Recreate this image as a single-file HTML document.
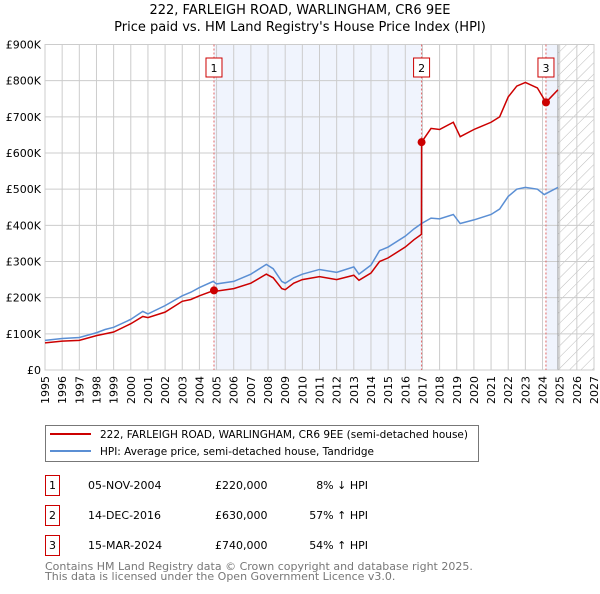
<!DOCTYPE html>
<html><head><meta charset="utf-8"><style>
body{margin:0;background:#fff;font-family:"DejaVu Sans","Liberation Sans",sans-serif;}
svg text{font-family:"DejaVu Sans","Liberation Sans",sans-serif;}
</style></head><body>
<svg id="chart" width="600" height="590" viewBox="0 0 600 590" xmlns="http://www.w3.org/2000/svg">
<defs><pattern id="hatch" patternUnits="userSpaceOnUse" width="8" height="8" patternTransform="rotate(45)"><line x1="0" y1="0" x2="0" y2="8" stroke="#bbb" stroke-width="1"/></pattern></defs>
<text x="300" y="14" text-anchor="middle" font-size="13">222, FARLEIGH ROAD, WARLINGHAM, CR6 9EE</text>
<text x="300" y="31" text-anchor="middle" font-size="13">Price paid vs. HM Land Registry's House Price Index (HPI)</text>
<g id="plot"></g>
<rect x="45.5" y="425.5" width="433" height="36" fill="#fff" stroke="#777"/>
<line x1="50" y1="434" x2="91" y2="434" stroke="#cc0000" stroke-width="2"/>
<text x="100" y="438" font-size="10.5" textLength="368" lengthAdjust="spacingAndGlyphs">222, FARLEIGH ROAD, WARLINGHAM, CR6 9EE (semi-detached house)</text>
<line x1="50" y1="451" x2="91" y2="451" stroke="#5b8fd4" stroke-width="2"/>
<text x="100" y="455" font-size="10.5" textLength="274" lengthAdjust="spacingAndGlyphs">HPI: Average price, semi-detached house, Tandridge</text>
<g id="table" font-size="11"></g>
<text x="45" y="570" font-size="11" fill="#777">Contains HM Land Registry data © Crown copyright and database right 2025.</text>
<text x="45" y="580" font-size="11" fill="#777">This data is licensed under the Open Government Licence v3.0.</text>
</svg>
<script>
const hpiYears=[1995,1996,1997,1998,1998.5,1999,2000,2000.7,2001,2002,2003,2003.5,2004,2004.8,2005,2006,2007,2007.9,2008.3,2008.8,2009,2009.5,2010,2011,2012,2013,2013.3,2014,2014.5,2015,2016,2016.5,2016.95,2017.5,2018,2018.8,2019.2,2020,2021,2021.5,2022,2022.5,2023,2023.7,2024.1,2024.5,2024.9];
const hpiValues=[82,87,90,103,112,118,140,162,155,178,205,215,228,245,238,245,265,292,280,245,240,255,265,278,270,285,265,290,330,340,370,390,405,420,418,430,405,415,430,445,480,500,505,500,485,495,505];
const redYears=[1995,1996,1997,1998,1999,2000,2000.7,2001,2002,2003,2003.5,2004,2004.85,2005,2006,2007,2007.9,2008.3,2008.8,2009,2009.5,2010,2011,2012,2013,2013.3,2014,2014.5,2015,2016,2016.5,2016.94,2016.95,2017.5,2018,2018.8,2019.2,2020,2021,2021.5,2022,2022.5,2023,2023.7,2024.2,2024.5,2024.9];
const redValues=[75,80,82,95,105,128,148,145,160,190,195,205,220,218,225,240,265,255,225,222,240,250,258,250,262,248,268,300,310,340,360,375,630,668,665,685,645,665,685,700,755,785,795,780,740,755,775];
const saleYears=[2004.85,2016.95,2024.2];
const saleValues=[220,630,740];
const saleLabels=["1","2","3"];
const yTicks=[0,100,200,300,400,500,600,700,800,900];
const yTickLabels=["£0","£100K","£200K","£300K","£400K","£500K","£600K","£700K","£800K","£900K"];
const tableDates=["05-NOV-2004","14-DEC-2016","15-MAR-2024"];
const tablePrices=["£220,000","£630,000","£740,000"];
const tableHpi=["8% ↓ HPI","57% ↑ HPI","54% ↑ HPI"];
const X0=45,X1=594,Y0=370,Y1=44.5,yMin=1995,yMax=2027;
const xs=y=>X0+(y-yMin)/(yMax-yMin)*(X1-X0);
const ys=v=>Y0-v/900*(Y0-Y1);
const NS="http://www.w3.org/2000/svg";
const plot=document.getElementById('plot');
function mk(tag,attrs,parent){const e=document.createElementNS(NS,tag);for(const k in attrs)e.setAttribute(k,attrs[k]);(parent||plot).appendChild(e);return e;}
let r=mk('rect',{x:X0,y:Y1,width:X1-X0,height:Y0-Y1,fill:'#fff'});


r=mk('rect',{x:xs(saleYears[0]),y:Y1,width:xs(saleYears[1])-xs(saleYears[0]),height:Y0-Y1,fill:'#f0f4fd'});


r=mk('rect',{x:xs(saleYears[2]),y:Y1,width:xs(2024.9)-xs(saleYears[2]),height:Y0-Y1,fill:'#f0f4fd'});


r=mk('rect',{x:xs(2024.9),y:Y1,width:X1-xs(2024.9),height:Y0-Y1,fill:'url(#hatch)'});


for(let y=1995;y<=2027;y++){const x=xs(y);
 let l=mk('line',{x1:x,y1:Y1,x2:x,y2:Y0,stroke:'#ccc'});
 
 
 let t=mk('text',{x:0,y:0,'font-size':11,'text-anchor':'end',transform:`translate(${x+4},${Y0+6}) rotate(-90)`});
 t.textContent=y;
 
 }
yTicks.forEach((v,i)=>{const y=ys(v);
 let l=mk('line',{x1:X0,y1:y,x2:X1,y2:y,stroke:'#ccc'});
 
 
 let t=mk('text',{x:X0-4,y:y+4,'font-size':11,'text-anchor':'end'});
 t.textContent=yTickLabels[i];
 
 });
let l=mk('line',{x1:xs(2024.9),y1:Y1,x2:xs(2024.9),y2:Y0,stroke:'#999'});


r=mk('rect',{x:X0,y:Y1,width:X1-X0,height:Y0-Y1,fill:'none',stroke:'#ccc'});


saleYears.forEach((sy,i)=>{const x=xs(sy);
 let l=mk('line',{x1:x,y1:Y1,x2:x,y2:Y0,stroke:'#e06666','stroke-dasharray':'2,2'});
 
 });
let p=mk('polyline',{points:hpiYears.map((y,i)=>xs(y)+','+ys(hpiValues[i])).join(' '),fill:'none',stroke:'#5b8fd4','stroke-width':1.5});


p=mk('polyline',{points:redYears.map((y,i)=>xs(y)+','+ys(redValues[i])).join(' '),fill:'none',stroke:'#cc0000','stroke-width':1.5});


saleYears.forEach((sy,i)=>{const x=xs(sy);
 let c=mk('circle',{cx:x,cy:ys(saleValues[i]),r:4,fill:'#cc0000'});
 
 
 let b=mk('rect',{x:x-8,y:58,width:16,height:19,fill:'#fff',stroke:'#cc0000'});
 
 
 let t=mk('text',{x:x,y:72,'font-size':11,'text-anchor':'middle'});
 t.textContent=saleLabels[i];
 
 });
const tbl=document.getElementById('table');
tableDates.forEach((d,i)=>{const y=475+i*30;
 let b=mk('rect',{x:45.5,y:y+0.5,width:14,height:20,fill:'#fff',stroke:'#cc0000'},tbl);
 
 
 let t=mk('text',{x:52.5,y:y+14,'text-anchor':'middle'},tbl);t.textContent=saleLabels[i];
 
 
 t=mk('text',{x:88,y:y+14},tbl);t.textContent=d;
 
 
 t=mk('text',{x:215,y:y+14},tbl);t.textContent=tablePrices[i];
 
 
 t=mk('text',{x:368,y:y+14,'text-anchor':'end'},tbl);t.textContent=tableHpi[i];
 
 });
</script>
</body></html>
